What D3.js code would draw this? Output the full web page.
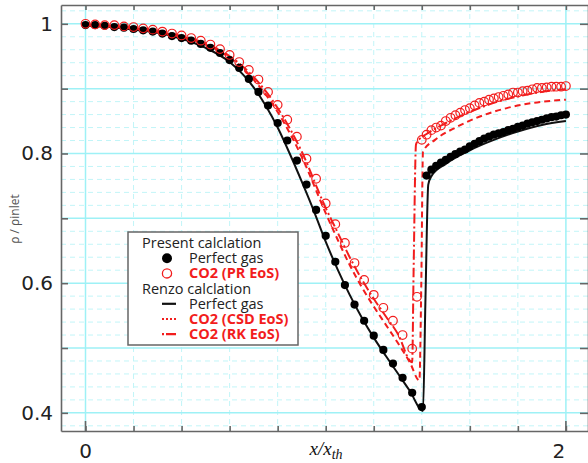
<!DOCTYPE html>
<html>
<head>
<meta charset="utf-8">
<script src="https://cdn.jsdelivr.net/npm/d3@7"></script>
<style>
  body { margin: 0; background: #fff; }
  .axis path, .axis line { stroke: #666; stroke-width: 1.6; }
  .axis text { font-family: 'DejaVu Sans', sans-serif; font-size: 20px; fill: #222; }
</style>
</head>
<body>
<script>
// present calculation, perfect gas (filled dots)
var presentGas = [
  [0, 0.998], [0.04, 0.998], [0.08, 0.997], [0.12, 0.995], [0.16, 0.994], [0.2, 0.992],
  [0.24, 0.990], [0.28, 0.988], [0.32, 0.985], [0.36, 0.981], [0.4, 0.978], [0.44, 0.974],
  [0.48, 0.969], [0.52, 0.963], [0.56, 0.955], [0.6, 0.944], [0.64, 0.932], [0.68, 0.915],
  [0.72, 0.895], [0.76, 0.874], [0.8, 0.847], [0.84, 0.820], [0.88, 0.789], [0.92, 0.752],
  [0.96, 0.713], [1.0, 0.673], [1.04, 0.633], [1.08, 0.597], [1.12, 0.567], [1.16, 0.542],
  [1.2, 0.519], [1.24, 0.497], [1.28, 0.476], [1.32, 0.454], [1.36, 0.431], [1.40, 0.409],
  [1.42, 0.766], [1.44, 0.775], [1.46, 0.781], [1.48, 0.786], [1.5, 0.790], [1.52, 0.795],
  [1.54, 0.799], [1.56, 0.803], [1.58, 0.806], [1.6, 0.811], [1.62, 0.815], [1.64, 0.819],
  [1.66, 0.823], [1.68, 0.826], [1.7, 0.829], [1.72, 0.831], [1.74, 0.833], [1.76, 0.836],
  [1.78, 0.838], [1.8, 0.841], [1.82, 0.843], [1.84, 0.846], [1.86, 0.848], [1.88, 0.850],
  [1.9, 0.852], [1.92, 0.854], [1.94, 0.856], [1.96, 0.857], [1.98, 0.859], [2.0, 0.860]
]

// present calculation, CO2 PR EoS (open circles)
var presentCO2 = [
  [0, 1.000], [0.04, 0.999], [0.08, 0.998], [0.12, 0.998], [0.16, 0.996], [0.2, 0.995],
  [0.24, 0.993], [0.28, 0.991], [0.32, 0.988], [0.36, 0.985], [0.4, 0.982], [0.44, 0.978],
  [0.48, 0.974], [0.52, 0.968], [0.56, 0.961], [0.6, 0.952], [0.64, 0.941], [0.68, 0.929],
  [0.72, 0.914], [0.76, 0.895], [0.8, 0.875], [0.84, 0.852], [0.88, 0.826], [0.92, 0.792],
  [0.96, 0.761], [1.0, 0.723], [1.04, 0.691], [1.08, 0.662], [1.12, 0.631], [1.16, 0.605],
  [1.2, 0.582], [1.24, 0.562], [1.28, 0.542], [1.32, 0.520], [1.36, 0.499], [1.38, 0.579],
  [1.4, 0.821], [1.42, 0.829], [1.44, 0.836], [1.46, 0.840], [1.48, 0.843], [1.5, 0.850],
  [1.52, 0.855], [1.54, 0.859], [1.56, 0.863], [1.58, 0.867], [1.6, 0.870], [1.62, 0.874],
  [1.64, 0.878], [1.66, 0.880], [1.68, 0.883], [1.7, 0.885], [1.72, 0.887], [1.74, 0.889],
  [1.76, 0.891], [1.78, 0.894], [1.8, 0.894], [1.82, 0.896], [1.84, 0.897], [1.86, 0.899],
  [1.88, 0.901], [1.9, 0.901], [1.92, 0.902], [1.94, 0.903], [1.96, 0.903], [1.98, 0.903],
  [2.0, 0.904]
]

// Renzo calculation, perfect gas (solid black line)
var renzoGas = [
  [0, 0.997], [0.1, 0.995], [0.2, 0.991], [0.3, 0.986], [0.4, 0.977], [0.5, 0.963],
  [0.6, 0.941], [0.7, 0.902], [0.8, 0.840], [0.85, 0.800], [0.9, 0.757], [0.95, 0.712],
  [1.0, 0.664], [1.05, 0.621], [1.1, 0.582], [1.15, 0.547], [1.2, 0.516], [1.25, 0.488],
  [1.3, 0.461], [1.35, 0.434], [1.405, 0.403], [1.415, 0.570], [1.427, 0.752], [1.44, 0.765],
  [1.5, 0.784], [1.6, 0.805], [1.7, 0.821], [1.8, 0.834], [1.9, 0.844], [2.0, 0.850]
]

// Renzo calculation, CO2 CSD EoS (red dotted)
var renzoCSD = [
  [0, 0.998], [0.1, 0.996], [0.2, 0.993], [0.3, 0.987], [0.4, 0.980], [0.5, 0.968],
  [0.6, 0.948], [0.7, 0.914], [0.8, 0.864], [0.9, 0.795], [1.0, 0.708], [1.05, 0.667],
  [1.1, 0.628], [1.15, 0.594], [1.2, 0.564], [1.25, 0.536], [1.3, 0.508], [1.35, 0.478],
  [1.39, 0.450], [1.398, 0.600], [1.405, 0.803], [1.455, 0.821], [1.546, 0.841],
  [1.642, 0.857], [1.754, 0.870], [1.863, 0.878], [2.0, 0.883]
]

// Renzo calculation, CO2 RK EoS (red dash-dot)
var renzoRK = [
  [0, 0.999], [0.1, 0.997], [0.2, 0.994], [0.3, 0.989], [0.4, 0.981], [0.5, 0.970],
  [0.6, 0.950], [0.7, 0.918], [0.8, 0.870], [0.9, 0.803], [1.0, 0.716], [1.05, 0.678],
  [1.1, 0.640], [1.15, 0.606], [1.2, 0.576], [1.25, 0.549], [1.3, 0.522], [1.36, 0.478],
  [1.366, 0.620], [1.376, 0.814], [1.39, 0.822], [1.42, 0.830], [1.5, 0.847], [1.6, 0.864],
  [1.7, 0.878], [1.8, 0.888], [1.9, 0.895], [2.0, 0.899]
]

var xTicks = [0, 0.2, 0.4, 0.6, 0.8, 1.0, 1.2, 1.4, 1.6, 1.8, 2.0]
var xLabels = [0, 2]
var yTicks = [0.4, 0.5, 0.6, 0.7, 0.8, 0.9, 1.0]
var yLabels = [0.4, 0.6, 0.8, 1]

var W = 588, H = 463
var red = '#f21d1d'

var svg = d3.select('body').append('svg').
  attr('width', W).
  attr('height', H)

var x = d3.scaleLinear().domain([-0.102, 2.092]).range([61, 588])
var y = d3.scaleLinear().domain([0.372, 1.029]).range([431, 5])

// grid
var minorY = d3.range(0.38, 1.03, 0.02).filter(function (v) {
  return Math.abs(v * 10 - Math.round(v * 10)) > 0.01
})
var grid = svg.append('g')
grid.selectAll('.hm').data(minorY).join('line').
  attr('x1', 61).attr('x2', 588).
  attr('y1', function (d) { return y(d) }).attr('y2', function (d) { return y(d) }).
  attr('stroke', '#c2f5f8').attr('stroke-width', 1).attr('stroke-dasharray', '5,4')
grid.selectAll('.vm').data(xTicks.slice(1, -1)).join('line').
  attr('y1', 5).attr('y2', 431).
  attr('x1', function (d) { return x(d) }).attr('x2', function (d) { return x(d) }).
  attr('stroke', '#c2f5f8').attr('stroke-width', 1).attr('stroke-dasharray', '5,4')
grid.selectAll('.hM').data(yTicks).join('line').
  attr('x1', 61).attr('x2', 588).
  attr('y1', function (d) { return y(d) }).attr('y2', function (d) { return y(d) }).
  attr('stroke', '#9ef1f6').attr('stroke-width', 1.5)
grid.selectAll('.vM').data([0, 2]).join('line').
  attr('y1', 5).attr('y2', 431).
  attr('x1', function (d) { return x(d) }).attr('x2', function (d) { return x(d) }).
  attr('stroke', '#9ef1f6').attr('stroke-width', 1.5)

// curves
var line = d3.line().
  x(function (d) { return x(d[0]) }).
  y(function (d) { return y(d[1]) }).
  curve(d3.curveMonotoneX)

svg.append('path').datum(renzoGas).attr('d', line).
  attr('fill', 'none').attr('stroke', '#111').attr('stroke-width', 2)
svg.append('path').datum(renzoCSD).attr('d', line).
  attr('fill', 'none').attr('stroke', red).attr('stroke-width', 2).
  attr('stroke-dasharray', '6,4')
svg.append('path').datum(renzoRK).attr('d', line).
  attr('fill', 'none').attr('stroke', red).attr('stroke-width', 2).
  attr('stroke-dasharray', '10,3,2,3')

svg.append('g').selectAll('circle').data(presentGas).join('circle').
  attr('cx', function (d) { return x(d[0]) }).
  attr('cy', function (d) { return y(d[1]) }).
  attr('r', 4.1).attr('fill', '#000')

svg.append('g').selectAll('circle').data(presentCO2).join('circle').
  attr('cx', function (d) { return x(d[0]) }).
  attr('cy', function (d) { return y(d[1]) }).
  attr('r', 4.3).attr('fill', 'none').attr('stroke', red).attr('stroke-width', 1.2)

// axes
svg.append('g').attr('class', 'axis').
  attr('transform', 'translate(61,0)').
  call(d3.axisLeft(y).tickValues(yTicks).tickSize(-7).tickSizeOuter(0).tickPadding(8).
    tickFormat(function (d) { return yLabels.indexOf(+d.toFixed(1)) >= 0 ? d3.format('~g')(d) : '' }))
svg.append('g').attr('class', 'axis').
  attr('transform', 'translate(588,0)').
  call(d3.axisRight(y).tickValues(yTicks).tickSize(-8).tickSizeOuter(0).tickFormat(''))
svg.append('g').attr('class', 'axis').
  attr('transform', 'translate(0,5)').
  call(d3.axisTop(x).tickValues(xTicks).tickSize(-5).tickSizeOuter(0).tickFormat(''))
svg.append('g').attr('class', 'axis').
  attr('transform', 'translate(0,431)').
  call(d3.axisBottom(x).tickValues(xTicks).tickSize(-5).tickSizeOuter(0).tickFormat(''))
svg.append('g').selectAll('line').data(xLabels).join('line').
  attr('x1', function (d) { return x(d) }).attr('x2', function (d) { return x(d) }).
  attr('y1', 431).attr('y2', 421).attr('stroke', '#666').attr('stroke-width', 1.6)

svg.append('g').selectAll('text').data(xLabels).join('text').
  attr('x', function (d) { return x(d) - (d === 2 ? 7 : 0) }).
  attr('y', 458).
  attr('text-anchor', 'middle').
  style('font-family', "'DejaVu Sans', sans-serif").style('font-size', '20px').
  attr('fill', '#222').
  text(function (d) { return d })

// axis titles
var xt = svg.append('text').
  attr('x', 326).attr('y', 455).
  attr('text-anchor', 'middle').
  style('font-family', "'Liberation Serif', serif").style('font-style', 'italic').
  style('font-size', '19px').attr('fill', '#111')
xt.append('tspan').text('x/x')
xt.append('tspan').attr('dy', 4).style('font-size', '14px').text('th')

svg.append('text').
  attr('transform', 'translate(19,219) rotate(-90)').
  attr('text-anchor', 'middle').
  style('font-family', "'Open Sans', sans-serif").style('font-size', '12px').
  attr('fill', '#555').
  text('ρ / ρinlet')

// legend
var legendRows = [
  {label: 'Present calclation', header: true},
  {label: 'Perfect gas', sym: 'dot'},
  {label: 'CO2 (PR EoS)', sym: 'ring', red: true},
  {label: 'Renzo calclation', header: true},
  {label: 'Perfect gas', sym: 'solid'},
  {label: 'CO2 (CSD EoS)', sym: 'dotted', red: true},
  {label: 'CO2 (RK EoS)', sym: 'dashdot', red: true}
]

svg.append('rect').
  attr('x', 128).attr('y', 232).attr('width', 170).attr('height', 113).
  attr('fill', '#fff').attr('stroke', '#666').attr('stroke-width', 1.5)

var rows = svg.append('g').selectAll('g').data(legendRows).join('g').
  attr('transform', function (d, i) { return 'translate(0,' + (248 + i * 15.2) + ')' })

rows.append('text').
  attr('x', function (d) { return d.header ? 142 : 189 }).
  style('font-family', "'Open Sans', sans-serif").style('font-size', '14.5px').
  style('font-weight', function (d) { return d.red ? 'bold' : 'normal' }).
  attr('fill', function (d) { return d.red ? red : '#222' }).
  text(function (d) { return d.label })

rows.each(function (d) {
  var g = d3.select(this)
  if (d.sym === 'dot') {
    g.append('circle').attr('cx', 167).attr('cy', -5).attr('r', 5).attr('fill', '#000')
  } else if (d.sym === 'ring') {
    g.append('circle').attr('cx', 167).attr('cy', -5).attr('r', 4.6).
      attr('fill', 'none').attr('stroke', red).attr('stroke-width', 1.3)
  } else if (d.sym) {
    g.append('line').attr('x1', 162).attr('x2', 176).attr('y1', -5).attr('y2', -5).
      attr('stroke', d.red ? red : '#111').attr('stroke-width', 2.2).
      attr('stroke-dasharray', d.sym === 'dotted' ? '2,2' : d.sym === 'dashdot' ? '2,2,10,0' : null)
  }
})
</script>
</body>
</html>
